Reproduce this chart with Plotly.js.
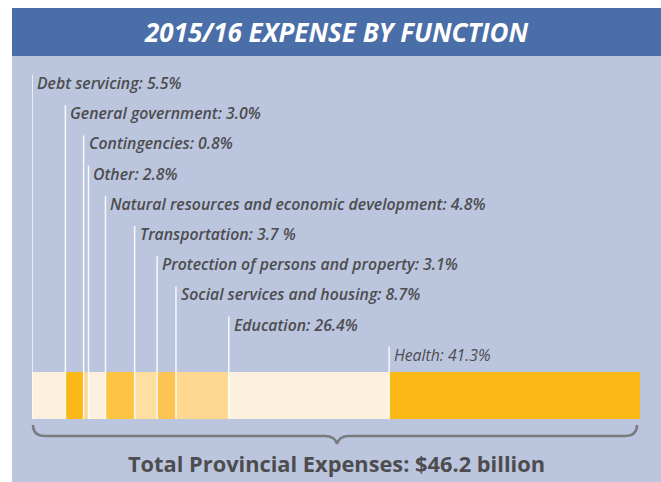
<!DOCTYPE html>
<html>
<head>
<meta charset="utf-8">
<script src="https://cdn.plot.ly/plotly-3.0.1.min.js"></script>
<style>html,body{margin:0;padding:0;background:#fff;}#chart{width:661px;height:482px;}</style>
</head>
<body>
<div id="chart"></div>
<script>
// ---- data ----
const categories = ["Debt servicing","General government","Contingencies","Other",
  "Natural resources and economic development","Transportation",
  "Protection of persons and property","Social services and housing","Education","Health"];
const values = [5.5, 3.0, 0.8, 2.8, 4.8, 3.7, 3.1, 8.7, 26.4, 41.3];
const valueLabels = ["5.5%","3.0%","0.8%","2.8%","4.8%","3.7 %","3.1%","8.7%","26.4%","41.3%"];
const colors = ["#fdf0df","#fbb917","#fdd58e","#fdf0df","#fdc342","#fedfa2","#fdc453","#fed891","#fdf0df","#fbb917"];
const chartTitle = "2015/16 EXPENSE BY FUNCTION";
const totalText = "Total Provincial Expenses: $46.2 billion";

// ---- layout helpers ----
const W = 661, H = 482;
const X = px => px / W;
const Y = py => 1 - py / H;
const barLeft = 32, barRight = 640, barTop = 372, barBottom = 419;
const total = values.reduce((a, b) => a + b, 0);

const traces = categories.map((c, i) => ({
  type: 'bar', orientation: 'h', name: c,
  y: [0], x: [values[i]], width: 1,
  marker: {color: colors[i], line: {width: 0}},
  hoverinfo: 'skip'
}));

const shapes = [
  // light panel
  {type:'rect', xref:'paper', yref:'paper', x0:X(12), x1:1, y0:0, y1:Y(56), fillcolor:'#bbc5de', line:{width:0}, layer:'below'},
  // banner
  {type:'rect', xref:'paper', yref:'paper', x0:X(12), x1:1, y0:Y(56), y1:Y(8), fillcolor:'#4a6ea8', line:{width:0}, layer:'below'}
];
const annotations = [
  {xref:'paper', yref:'paper', x:X(336), y:Y(32), text:chartTitle, showarrow:false,
   xanchor:'center', yanchor:'middle',
   font:{family:'Open Sans', size:26, color:'#ffffff', weight:700, style:'italic'}},
  {xref:'paper', yref:'paper', x:X(336), y:Y(463), text:totalText, showarrow:false,
   xanchor:'center', yanchor:'middle',
   font:{family:'Open Sans', size:21.8, color:'#4d4d4f', weight:700}}
];

let cum = 0;
categories.forEach((c, i) => {
  const top = 75 + i * 30.2;
  shapes.push({type:'line', xref:'x', yref:'paper', x0:cum, x1:cum, y0:Y(barBottom), y1:Y(top),
    line:{color:'rgba(255,255,255,0.9)', width:1.5}, layer:'above'});
  annotations.push({xref:'x', yref:'paper', x:cum, y:Y(top + 8), xshift:3,
    text: c + ': ' + valueLabels[i], showarrow:false, xanchor:'left', yanchor:'middle',
    font:{family:'Open Sans', size:15.8, color:'#4d4d4f', weight:(i === categories.length - 1 ? 400 : 600), style:'italic'}});
  cum += values[i];
});

// brace under the bar
const bl = barLeft + 1, br = barRight - 3, mid = (barLeft + barRight) / 2 + 1;
const by = 436, btop = 425, tip = 444;
const bracePath = [
  'M', X(bl), Y(btop),
  'Q', X(bl), Y(by), X(bl + 12), Y(by),
  'L', X(mid - 12), Y(by),
  'Q', X(mid - 2), Y(by), X(mid), Y(tip),
  'Q', X(mid + 2), Y(by), X(mid + 12), Y(by),
  'L', X(br - 12), Y(by),
  'Q', X(br), Y(by), X(br), Y(btop)
].join(' ').replace(/ ([\d.]+) ([\d.]+)/g, ' $1,$2');
shapes.push({type:'path', xref:'paper', yref:'paper', path:bracePath, line:{color:'#7c7c80', width:2.5}, layer:'above'});

const layout = {
  width: W, height: H,
  margin: {l:0, r:0, t:0, b:0, pad:0},
  paper_bgcolor: '#ffffff', plot_bgcolor: 'rgba(0,0,0,0)',
  barmode: 'stack', showlegend: false,
  xaxis: {domain:[X(barLeft), X(barRight)], range:[0, total], visible:false, fixedrange:true},
  yaxis: {domain:[Y(barBottom), Y(barTop)], range:[-0.5, 0.5], visible:false, fixedrange:true},
  shapes: shapes, annotations: annotations
};
Plotly.newPlot('chart', traces, layout, {displayModeBar:false, staticPlot:true});
</script>
</body>
</html>
